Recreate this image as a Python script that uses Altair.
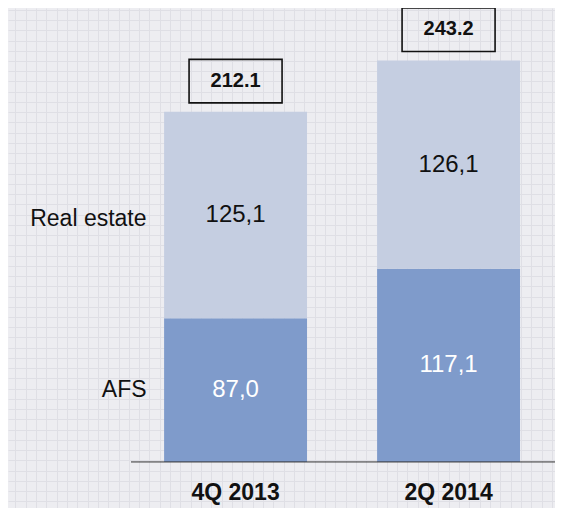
import altair as alt
import pandas as pd

# ---- data ----
categories = ["4Q 2013", "2Q 2014"]
series = ["AFS", "Real estate"]
afs_values = [87.0, 117.1]
real_estate_values = [125.1, 126.1]
afs_labels = ["87,0", "117,1"]
real_estate_labels = ["125,1", "126,1"]
totals = [212.1, 243.2]
total_labels = ["212.1", "243.2"]

# ---- layout / style ----
W, H = 547, 500
Y_DOMAIN = [-27.9, 275.0]
PX = H / (Y_DOMAIN[1] - Y_DOMAIN[0])
BG = "#EDEDF1"
GRID = "#DFDFE5"
LIGHT = "#C5CEE1"
DARK = "#7F9BCB"
FONT = "Liberation Sans"

rows = []
for i, c in enumerate(categories):
    rows.append(dict(category=c, series=series[0], value=afs_values[i], label=afs_labels[i], order=0))
    rows.append(dict(category=c, series=series[1], value=real_estate_values[i], label=real_estate_labels[i], order=1))
seg = pd.DataFrame(rows)
tot = pd.DataFrame(dict(category=categories, total=totals, label=total_labels))
cat_df = pd.DataFrame(dict(category=categories))

xs = alt.Scale(domain=categories, paddingInner=0.329, paddingOuter=0.4485, align=0.817)
ys = alt.Scale(domain=Y_DOMAIN, nice=False, zero=False)

seg_base = (alt.Chart(seg)
            .transform_stack(stack="value", as_=["v0", "v1"], groupby=["category"],
                             sort=[alt.SortField("order", order="ascending")])
            .transform_calculate(mid="(datum.v0 + datum.v1) / 2"))

bars = seg_base.mark_bar().encode(
    x=alt.X("category:N", scale=xs, axis=None),
    y=alt.Y("v0:Q", scale=ys, axis=None),
    y2="v1:Q",
    color=alt.Color("series:N", scale=alt.Scale(domain=series, range=[DARK, LIGHT]), legend=None),
)

seg_text = seg_base.mark_text(fontSize=24, font=FONT, baseline="middle").encode(
    x=alt.X("category:N", scale=xs, axis=None),
    y=alt.Y("mid:Q", scale=ys, axis=None),
    text="label:N",
    color=alt.condition(alt.datum.series == series[0], alt.value("#ffffff"), alt.value("#111111")),
)

series_text = (seg_base.transform_filter(alt.datum.category == categories[0])
               .transform_calculate(lab_y=f"datum.mid - (datum.series == '{series[1]}' ? {4 / PX} : 0)")
               .mark_text(fontSize=23, font=FONT, baseline="middle", align="right", dx=-89, color="#111111")
               .encode(x=alt.X("category:N", scale=xs, axis=None),
                       y=alt.Y("lab_y:Q", scale=ys, axis=None),
                       text="series:N"))

tot_base = alt.Chart(tot).transform_calculate(
    lo=f"datum.total + {9 / PX}",
    hi=f"datum.total + {52.5 / PX}",
    mid=f"datum.total + {31 / PX}",
)
boxes = tot_base.mark_bar(width=93, fillOpacity=0, stroke="#111111", strokeWidth=1.6).encode(
    x=alt.X("category:N", scale=xs, axis=None),
    y=alt.Y("lo:Q", scale=ys, axis=None),
    y2="hi:Q",
)
box_text = tot_base.mark_text(fontSize=20, font=FONT, fontWeight="bold", baseline="middle", color="#111111").encode(
    x=alt.X("category:N", scale=xs, axis=None),
    y=alt.Y("mid:Q", scale=ys, axis=None),
    text="label:N",
)

cat_text = alt.Chart(cat_df).mark_text(fontSize=23, font=FONT, fontWeight="bold",
                                       baseline="alphabetic", color="#111111").encode(
    x=alt.X("category:N", scale=xs, axis=None),
    y=alt.datum(-23.3, scale=ys, axis=None),
    text="category:N",
)

baseline_rule = alt.Chart(pd.DataFrame({"a": [0]})).mark_rule(color="#333333", strokeWidth=1).encode(
    y=alt.datum(0, scale=ys, axis=None),
    x=alt.value(123),
    x2=alt.value(548),
)

inner = alt.layer(bars, seg_text, series_text, boxes, box_text, cat_text, baseline_rule)

# background graph-paper grid
gx_vals = [round(7.3 + 10.32 * k, 2) for k in range(53)]
gy_vals = [round(1.8 + 10.24 * k, 2) for k in range(49)]
grid = alt.Chart(pd.DataFrame({"gx": [0.0], "gy": [0.0]})).mark_point(opacity=0).encode(
    x=alt.X("gx:Q", scale=alt.Scale(domain=[0, W], nice=False, zero=False),
            axis=alt.Axis(values=gx_vals, grid=True, labels=False, ticks=False, domain=False,
                          gridColor=GRID, gridWidth=1, title=None)),
    y=alt.Y("gy:Q", scale=alt.Scale(domain=[0, H], nice=False, zero=False, reverse=True),
            axis=alt.Axis(values=gy_vals, grid=True, labels=False, ticks=False, domain=False,
                          gridColor=GRID, gridWidth=1, title=None)),
)

chart = (alt.layer(grid, inner)
         .resolve_scale(x="independent", y="independent")
         .properties(width=W, height=H, background=BG, padding=0,
                     autosize=alt.AutoSizeParams(type="none"))
         .configure_view(stroke=None))

chart.save("out.html", embed_options={"renderer": "svg", "actions": False})
